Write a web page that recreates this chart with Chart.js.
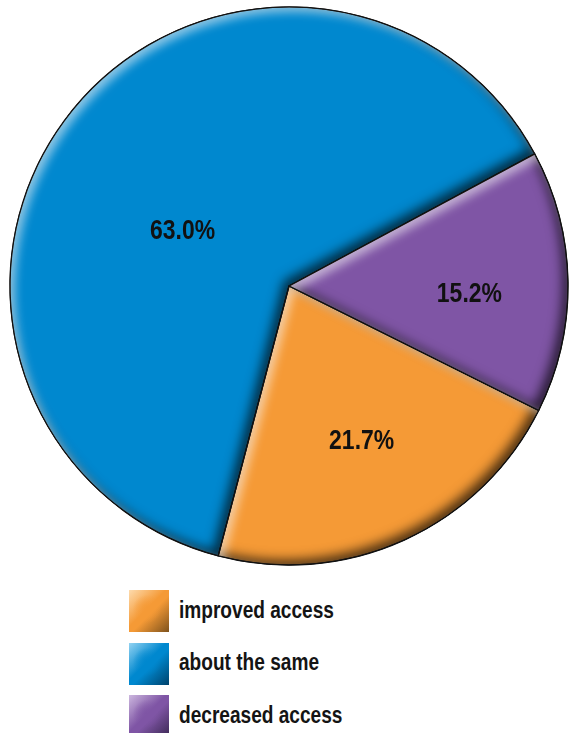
<!DOCTYPE html>
<html>
<head>
<meta charset="utf-8">
<script src="https://cdn.jsdelivr.net/npm/chart.js@4/dist/chart.umd.min.js"></script>
<style>
  html, body { margin: 0; padding: 0; background: #fff; }
  #wrap { position: relative; width: 569px; height: 733px; overflow: hidden; }
  #pie { position: absolute; left: 0; top: 0; }
  #legend { position: absolute; left: 129px; top: 590px; margin: 0; padding: 0; list-style: none; }
  #legend li { display: flex; align-items: center; height: 42px; margin-bottom: 10.5px; white-space: nowrap; }
  #legend .box { width: 40px; height: 42px; margin-right: 10px; flex: none; }
  #legend .txt {
    display: inline-block;
    font-family: "Liberation Sans", Arial, sans-serif;
    font-weight: bold; font-size: 23px; color: #141414;
    transform: scaleX(0.83); transform-origin: left center;
    position: relative; top: -1px;
  }
</style>
</head>
<body>
<div id="wrap">
  <canvas id="pie" width="569" height="572"></canvas>
  <ul id="legend"></ul>
</div>
<script>
    'use strict';

    var categories = ['improved access', 'about the same', 'decreased access'];
    var shares = [21.7, 63.0, 15.2];
    var sliceColors = ['#F59A36', '#0088CF', '#7F55A5'];
    var boxLight = ['#FDDBAE', '#93D3F2', '#CDB8DF'];
    var boxDark = ['#7E521C', '#00426B', '#3B2853'];

    // where each percentage sits: fraction of radius and a small angular nudge (deg)
    var labelRadius = [0.607, 0.432, 0.647];
    var labelNudge = [-1.0, -10.25, 2.96];

    var LABEL_FONT = 'bold 27px "Liberation Sans", Arial, sans-serif';
    var NARROW = 0.85;

    function slicePath(ctx, a) {
        ctx.moveTo(a.x, a.y);
        ctx.arc(a.x, a.y, a.outerRadius, a.startAngle, a.endAngle);
        ctx.closePath();
    }

    // raised look: light rim on upper-left edges, dark rim on lower-right edges
    var bevel = {
        id: 'bevel',
        afterDatasetsDraw: function (chart) {
            var ctx = chart.ctx;
            var arcs = chart.getDatasetMeta(0).data;
            arcs.forEach(function (el) {
                var a = el.getProps(['x', 'y', 'startAngle', 'endAngle', 'outerRadius'], true);
                [['rgba(0,0,0,0.7)', -5, 12], ['rgba(255,255,255,0.55)', 5, 10]].forEach(function (s) {
                    ctx.save();
                    ctx.beginPath();
                    slicePath(ctx, a);
                    ctx.clip();
                    ctx.beginPath();
                    ctx.rect(-2000, -2000, 5000, 5000);
                    slicePath(ctx, a);
                    ctx.shadowColor = s[0];
                    ctx.shadowBlur = s[2];
                    ctx.shadowOffsetX = s[1];
                    ctx.shadowOffsetY = s[1];
                    ctx.fillStyle = '#000';
                    ctx.fill('evenodd');
                    ctx.restore();
                });
                ctx.save();
                ctx.beginPath();
                slicePath(ctx, a);
                ctx.lineWidth = 1.3;
                ctx.lineJoin = 'round';
                ctx.strokeStyle = '#111';
                ctx.stroke();
                ctx.restore();
            });
        }
    };

    var sliceLabels = {
        id: 'sliceLabels',
        afterDraw: function (chart) {
            var ctx = chart.ctx;
            var meta = chart.getDatasetMeta(0);
            meta.data.forEach(function (el, i) {
                var a = el.getProps(['x', 'y', 'startAngle', 'endAngle', 'outerRadius'], true);
                var mid = (a.startAngle + a.endAngle) / 2 + labelNudge[i] * Math.PI / 180;
                var r = a.outerRadius * labelRadius[i];
                ctx.save();
                ctx.translate(a.x + Math.cos(mid) * r, a.y + Math.sin(mid) * r);
                ctx.scale(NARROW, 1);
                ctx.font = LABEL_FONT;
                ctx.fillStyle = '#111';
                ctx.textAlign = 'center';
                ctx.textBaseline = 'alphabetic';
                ctx.fillText(shares[i].toFixed(1) + '%', 0, 9.7);
                ctx.restore();
            });
        }
    };

    var chart = new Chart(document.getElementById('pie'), {
        type: 'pie',
        data: {
            labels: categories,
            datasets: [{
                data: shares,
                backgroundColor: sliceColors,
                borderColor: '#111',
                borderWidth: 1
            }]
        },
        options: {
            responsive: false,
            devicePixelRatio: 1,
            animation: false,
            rotation: 116.5,
            radius: 279,
            layout: { padding: { left: 9 } },
            plugins: {
                legend: { display: false },
                tooltip: { enabled: false }
            }
        },
        plugins: [bevel, sliceLabels]
    });

    // legend built from the chart's own labels
    var ul = document.getElementById('legend');
    chart.data.labels.forEach(function (label, i) {
        var li = document.createElement('li');
        var box = document.createElement('span');
        box.className = 'box';
        box.style.background =
            'radial-gradient(circle at 45% 45%, ' + sliceColors[i] + ' 0%, rgba(0,0,0,0) 45%), ' +
            'linear-gradient(135deg, ' + boxLight[i] + ' 0%, ' + sliceColors[i] + ' 45%, ' + sliceColors[i] + ' 55%, ' + boxDark[i] + ' 100%)';
        var txt = document.createElement('span');
        txt.className = 'txt';
        txt.textContent = label;
        li.appendChild(box);
        li.appendChild(txt);
        ul.appendChild(li);
    });
</script>
</body>
</html>
